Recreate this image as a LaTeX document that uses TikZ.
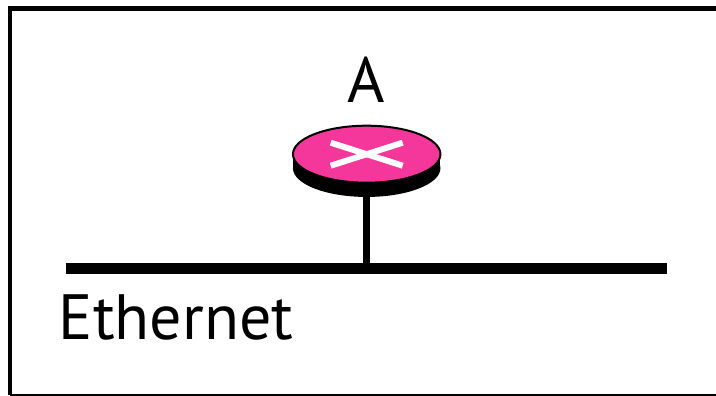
\documentclass[tikz,border=0pt]{standalone}
\usepackage{fontspec}
\setmainfont{PT Sans}
\usetikzlibrary{positioning, shapes.geometric}
\definecolor{routerpink}{RGB}{245,55,155}
\tikzset{
    routertop/.style={ellipse, draw=black, line width=2pt, fill=routerpink, minimum width=147.5pt, minimum height=57pt, inner sep=0pt, outer sep=0pt},
    routerside/.style={ellipse, fill=black, minimum width=147.5pt, minimum height=57.5pt, inner sep=0pt, outer sep=0pt},
    crossline/.style={draw=white, line width=6pt},
    busline/.style={draw=black, line width=11pt},
    stemline/.style={draw=black, line width=7pt},
    biglabel/.style={font=\fontsize{64}{64}\selectfont, text=black, inner sep=0pt}
}
\begin{document}
\begin{tikzpicture}[x=1pt, y=1pt]
    \useasboundingbox (0,0) rectangle (716,396);

    % Frame, open on the right
    \draw[black, line width=4.5pt] (716,387.5) -- (10,387.5) -- (10,1);
    \draw[black, line width=2pt] (10,1) -- (716,1);

    % Define nodes
    \node[routerside] (routerbase) at (366.7,227.8) {};
    \fill[black] (routerbase.west) rectangle ++(147.5,14);
    \node[routertop, above of=routerbase, node distance=14pt] (router) {};
    \node[biglabel, above of=router, node distance=74.5pt] (labelA) {A};
    \coordinate (busleft) at (66,127.8);
    \coordinate (busright) at (667,127.8);
    \node[biglabel] (labelEthernet) at (176,78.5) {Ethernet};

    % Draw cross on the router
    \draw[crossline] ([xshift=-36pt,yshift=11.5pt]router.center) -- ([xshift=36pt,yshift=-11.5pt]router.center);
    \draw[crossline] ([xshift=-36pt,yshift=-11.5pt]router.center) -- ([xshift=36pt,yshift=11.5pt]router.center);

    % Draw the bus and the stem
    \draw[busline] (busleft) -- (busright);
    \draw[stemline] (routerbase.south) -- (routerbase.south |- busleft);
\end{tikzpicture}
\end{document}
